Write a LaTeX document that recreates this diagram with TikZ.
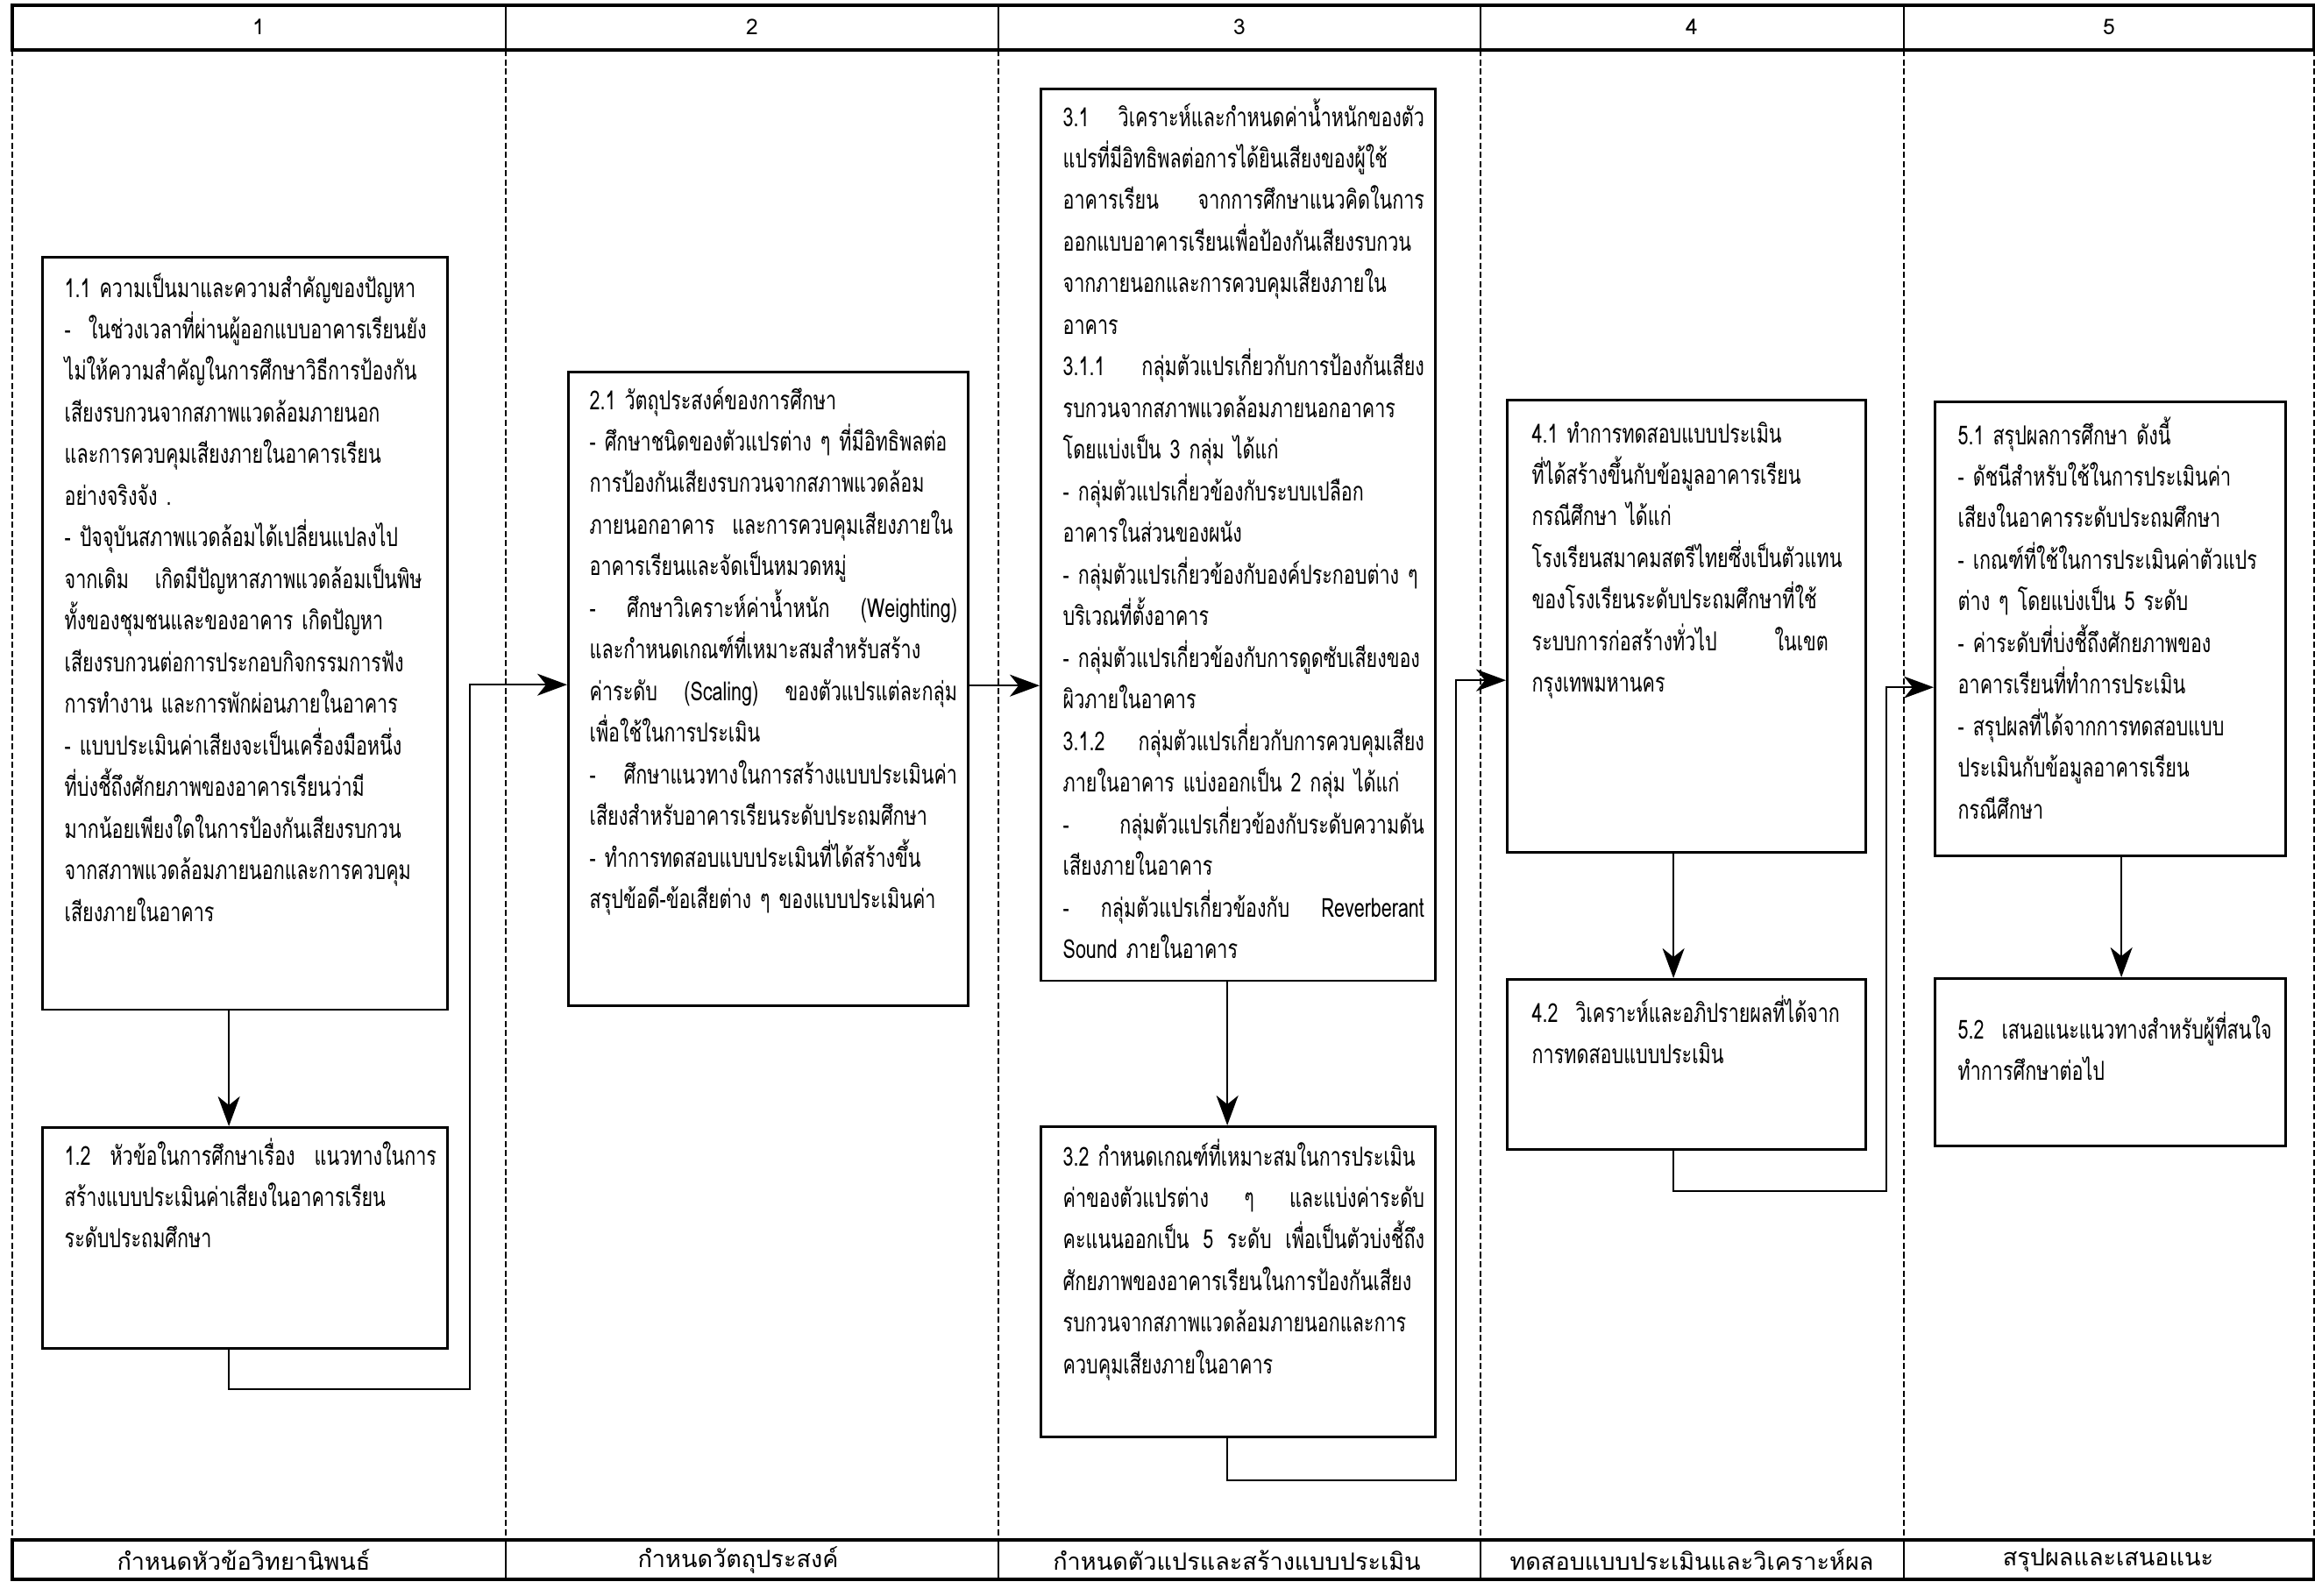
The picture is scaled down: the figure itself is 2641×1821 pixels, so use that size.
\documentclass[tikz,border=0pt]{standalone}
\usepackage{fontspec}
\setmainfont[Script=Thai, FakeStretch=0.72]{Loma}
\newfontfamily\plainfont[Script=Thai]{Loma}
\usetikzlibrary{arrows.meta, calc, positioning}

\exhyphenpenalty=10000
\hyphenpenalty=10000
\newcommand{\jline}[1]{\leavevmode\hbox to \linewidth{#1}}

\tikzset{
  box/.style={draw, line width=0.8pt, anchor=north west, inner sep=0pt},
  txt/.style={anchor=base west, inner sep=0pt, align=left,
    font=\fontsize{8.5}{13.5}\selectfont},
  arr/.style={line width=0.6pt, -{Stealth[length=3.4mm, width=2.5mm, inset=1mm]}},
  frame/.style={line width=1pt},
  sep/.style={line width=0.4pt, dash pattern=on 2pt off 1pt},
  head/.style={font=\plainfont\fontsize{7}{8}\selectfont},
  foot/.style={font=\plainfont\fontsize{7.7}{9}\selectfont},
}

\begin{document}
\begin{tikzpicture}[x=0.01cm, y=-0.01cm]
\useasboundingbox (0,0) rectangle (2641,1821);

% table frame
\draw[frame] (14,6) rectangle (2640,57);
\draw[frame] (14,1757) rectangle (2640,1802);
\foreach \x in {577,1139,1689,2172}
  \draw[line width=0.5pt] (\x,6) -- (\x,57) (\x,1757) -- (\x,1802);
\foreach \x in {14,577,1139,1689,2172,2640}
  \draw[sep] (\x,57) -- (\x,1757);

\foreach \x/\n [count=\i] in {295/1, 858/2, 1414/3, 1930/4, 2406/5}
  \node[head] (h\i) at (\x,31) {\n};
\foreach \x/\t [count=\i] in {278/กำหนดหัวข้อวิทยานิพนธ์, 842/กำหนดวัตถุประสงค์,
    1411/กำหนดตัวแปรและสร้างแบบประเมิน, 1930/ทดสอบแบบประเมินและวิเคราะห์ผล,
    2405/สรุปผลและเสนอแนะ}
  \node[foot] (f\i) at (\x,1780) {\t};

% column 1
\node[box, minimum width=4.62cm, minimum height=8.58cm] (b11) at (47,292) {};
\node[txt, text width=4.24cm] (t11) at ($(b11.north west)+(26,47)$) {%
1.1~ความเป็นมาและความสำคัญของปัญหา\\
-~~ในช่วงเวลาที่ผ่านผู้ออกแบบอาคารเรียนยัง\\
ไม่ให้ความสำคัญในการศึกษาวิธีการป้องกัน\\
เสียงรบกวนจากสภาพแวดล้อมภายนอก\\
และการควบคุมเสียงภายในอาคารเรียน\\
อย่างจริงจัง~.\\
-~ปัจจุบันสภาพแวดล้อมได้เปลี่ยนแปลงไป\\
จากเดิม~~~เกิดมีปัญหาสภาพแวดล้อมเป็นพิษ\\
ทั้งของชุมชนและของอาคาร~เกิดปัญหา\\
เสียงรบกวนต่อการประกอบกิจกรรมการฟัง\\
การทำงาน~และการพักผ่อนภายในอาคาร\\
-~แบบประเมินค่าเสียงจะเป็นเครื่องมือหนึ่ง\\
ที่บ่งชี้ถึงศักยภาพของอาคารเรียนว่ามี\\
มากน้อยเพียงใดในการป้องกันเสียงรบกวน\\
จากสภาพแวดล้อมภายนอกและการควบคุม\\
เสียงภายในอาคาร};

\node[box, minimum width=4.62cm, minimum height=2.52cm] (b12) at (47,1285) {};
\node[txt, text width=4.24cm] (t12) at ($(b12.north west)+(26,44)$) {%
\jline{1.2\hfill หัวข้อในการศึกษาเรื่อง\hfill แนวทางในการ}\\
สร้างแบบประเมินค่าเสียงในอาคารเรียน\\
ระดับประถมศึกษา};

% column 2
\node[box, minimum width=4.56cm, minimum height=7.23cm] (b21) at (647,423) {};
\node[txt, text width=4.19cm] (t21) at ($(b21.north west)+(25,44)$) {%
2.1~วัตถุประสงค์ของการศึกษา\\
-~ศึกษาชนิดของตัวแปรต่าง~ๆ~ที่มีอิทธิพลต่อ\\
การป้องกันเสียงรบกวนจากสภาพแวดล้อม\\
ภายนอกอาคาร~~และการควบคุมเสียงภายใน\\
อาคารเรียนและจัดเป็นหมวดหมู่\\
\jline{-\hfill ศึกษาวิเคราะห์ค่าน้ำหนัก\hfill (Weighting)}\\
และกำหนดเกณฑ์ที่เหมาะสมสำหรับสร้าง\\
\jline{ค่าระดับ\hfill (Scaling)\hfill ของตัวแปรแต่ละกลุ่ม}\\
เพื่อใช้ในการประเมิน\\
\jline{-\hfill ศึกษาแนวทางในการสร้างแบบประเมินค่า}\\
เสียงสำหรับอาคารเรียนระดับประถมศึกษา\\
-~ทำการทดสอบแบบประเมินที่ได้สร้างขึ้น\\
สรุปข้อดี-ข้อเสียต่าง~ๆ~ของแบบประเมินค่า};

% column 3
\node[box, minimum width=4.50cm, minimum height=10.17cm] (b31) at (1186,100) {};
\node[txt, text width=4.12cm] (t31) at ($(b31.north west)+(26,44)$) {%
\jline{3.1\hfill วิเคราะห์และกำหนดค่าน้ำหนักของตัว}\\
แปรที่มีอิทธิพลต่อการได้ยินเสียงของผู้ใช้\\
\jline{อาคารเรียน\hfill จากการศึกษาแนวคิดในการ}\\
ออกแบบอาคารเรียนเพื่อป้องกันเสียงรบกวน\\
จากภายนอกและการควบคุมเสียงภายใน\\
อาคาร\\
\jline{3.1.1\hfill กลุ่มตัวแปรเกี่ยวกับการป้องกันเสียง}\\
รบกวนจากสภาพแวดล้อมภายนอกอาคาร\\
โดยแบ่งเป็น~3~กลุ่ม~ได้แก่\\
-~กลุ่มตัวแปรเกี่ยวข้องกับระบบเปลือก\\
อาคารในส่วนของผนัง\\
-~กลุ่มตัวแปรเกี่ยวข้องกับองค์ประกอบต่าง~ๆ\\
บริเวณที่ตั้งอาคาร\\
-~กลุ่มตัวแปรเกี่ยวข้องกับการดูดซับเสียงของ\\
ผิวภายในอาคาร\\
\jline{3.1.2\hfill กลุ่มตัวแปรเกี่ยวกับการควบคุมเสียง}\\
ภายในอาคาร~แบ่งออกเป็น~2~กลุ่ม~ได้แก่\\
\jline{-\hfill กลุ่มตัวแปรเกี่ยวข้องกับระดับความดัน}\\
เสียงภายในอาคาร\\
\jline{-\hfill กลุ่มตัวแปรเกี่ยวข้องกับ\hfill Reverberant}\\
Sound~ภายในอาคาร};

\node[box, minimum width=4.50cm, minimum height=3.54cm] (b32) at (1186,1284) {};
\node[txt, text width=4.12cm] (t32) at ($(b32.north west)+(26,46)$) {%
3.2~กำหนดเกณฑ์ที่เหมาะสมในการประเมิน\\
\jline{ค่าของตัวแปรต่าง\hfill ๆ\hfill และแบ่งค่าระดับ}\\
\jline{คะแนนออกเป็น\hfill 5\hfill ระดับ\hfill เพื่อเป็นตัวบ่งชี้ถึง}\\
ศักยภาพของอาคารเรียนในการป้องกันเสียง\\
รบกวนจากสภาพแวดล้อมภายนอกและการ\\
ควบคุมเสียงภายในอาคาร};

% column 4
\node[box, minimum width=4.09cm, minimum height=5.16cm] (b41) at (1718,455) {};
\node[txt, text width=3.68cm] (t41) at ($(b41.north west)+(29,50)$) {%
4.1~ทำการทดสอบแบบประเมิน\\
ที่ได้สร้างขึ้นกับข้อมูลอาคารเรียน\\
กรณีศึกษา~ได้แก่\\
โรงเรียนสมาคมสตรีไทยซึ่งเป็นตัวแทน\\
ของโรงเรียนระดับประถมศึกษาที่ใช้\\
\jline{ระบบการก่อสร้างทั่วไป\hfill ในเขต\hspace{0.3cm}}\\
กรุงเทพมหานคร};

\node[box, minimum width=4.09cm, minimum height=1.94cm] (b42) at (1718,1116) {};
\node[txt, text width=3.68cm] (t42) at ($(b42.north west)+(29,50)$) {%
4.2~~วิเคราะห์และอภิปรายผลที่ได้จาก\\
การทดสอบแบบประเมิน};

% column 5
\node[box, minimum width=4.00cm, minimum height=5.18cm] (b51) at (2206,457) {};
\node[txt, text width=3.61cm] (t51) at ($(b51.north west)+(27,50)$) {%
5.1~สรุปผลการศึกษา~ดังนี้\\
-~ดัชนีสำหรับใช้ในการประเมินค่า\\
เสียงในอาคารระดับประถมศึกษา\\
-~เกณฑ์ที่ใช้ในการประเมินค่าตัวแปร\\
ต่าง~ๆ~โดยแบ่งเป็น~5~ระดับ\\
-~ค่าระดับที่บ่งชี้ถึงศักยภาพของ\\
อาคารเรียนที่ทำการประเมิน\\
-~สรุปผลที่ได้จากการทดสอบแบบ\\
ประเมินกับข้อมูลอาคารเรียน\\
กรณีศึกษา};

\node[box, minimum width=4.00cm, minimum height=1.91cm] (b52) at (2206,1115) {};
\node[txt, text width=3.61cm] (t52) at ($(b52.north west)+(27,70)$) {%
5.2~~เสนอแนะแนวทางสำหรับผู้ที่สนใจ\\
ทำการศึกษาต่อไป};

% connectors
\coordinate (k1) at (536,1585);
\coordinate (k3) at (1661,1689);
\coordinate (k4) at (2152,1359);
\coordinate (e21) at ([yshift=-3.59cm]b21.north east);

\draw[arr] ([xshift=2.14cm]b11.south west) -- ([xshift=2.14cm]b12.north west);
\draw[arr] ([xshift=2.14cm]b12.south west) |- (k1) |- ([yshift=-3.58cm]b21.north west);
\draw[arr] (e21) -- (e21 -| b31.west);
\draw[arr] ([xshift=2.14cm]b31.south west) -- ([xshift=2.14cm]b32.north west);
\draw[arr] ([xshift=2.14cm]b32.south west) |- (k3) |- ([yshift=-3.21cm]b41.north west);
\draw[arr] ([xshift=1.91cm]b41.south west) -- ([xshift=1.91cm]b42.north west);
\draw[arr] ([xshift=1.91cm]b42.south west) |- (k4) |- ([yshift=-3.27cm]b51.north west);
\draw[arr] ([xshift=2.14cm]b51.south west) -- ([xshift=2.14cm]b52.north west);
\end{tikzpicture}
\end{document}
